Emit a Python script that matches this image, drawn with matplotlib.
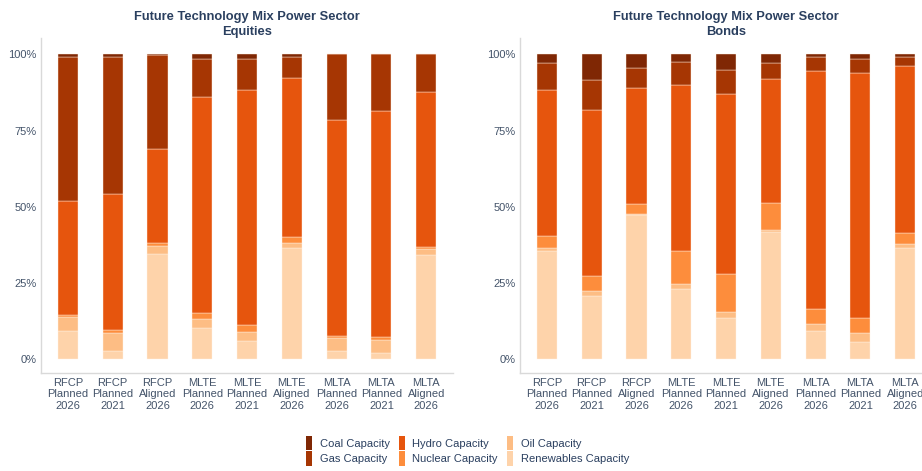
import numpy as np
import matplotlib
matplotlib.use("Agg")
from matplotlib import pyplot as plt
from matplotlib.patches import Patch

plt.rcParams['font.family'] = ['Liberation Sans', 'DejaVu Sans']

categories = ["RFCP\nPlanned\n2026", "RFCP\nPlanned\n2021", "RFCP\nAligned\n2026",
              "MLTE\nPlanned\n2026", "MLTE\nPlanned\n2021", "MLTE\nAligned\n2026",
              "MLTA\nPlanned\n2026", "MLTA\nPlanned\n2021", "MLTA\nAligned\n2026"]

technologies = ["Renewables Capacity", "Oil Capacity", "Nuclear Capacity",
                "Hydro Capacity", "Gas Capacity", "Coal Capacity"]
colors = ["#fed3aa", "#fdbd84", "#fd8d3c", "#e6550d", "#a63603", "#7f2704"]

# equities shares (%), one list per technology
eq_renewables = [9.2, 2.7, 34.4, 10.3, 5.9, 36.6, 2.7, 2.1, 34.1]
eq_oil = [4.7, 5.9, 2.8, 2.7, 3.1, 1.5, 4.1, 4.2, 2.0]
eq_nuclear = [0.7, 0.9, 0.8, 2.0, 2.1, 1.8, 0.9, 1.0, 0.8]
eq_hydro = [37.4, 44.8, 31.0, 71.0, 77.1, 52.3, 70.7, 74.2, 50.6]
eq_gas = [47.1, 44.8, 30.7, 12.6, 10.2, 7.1, 21.6, 18.5, 12.5]
eq_coal = [0.9, 0.9, 0.3, 1.4, 1.6, 0.7, 0.0, 0.0, 0.0]

# bonds shares (%)
bo_renewables = [35.5, 20.8, 47.2, 23.0, 13.4, 41.7, 9.1, 5.6, 36.4]
bo_oil = [1.1, 1.6, 0.5, 1.5, 1.9, 0.8, 2.5, 2.9, 1.4]
bo_nuclear = [3.8, 4.7, 3.3, 10.8, 12.5, 8.8, 4.8, 4.9, 3.6]
bo_hydro = [48.0, 54.8, 38.0, 54.5, 59.1, 40.5, 78.1, 80.6, 54.8]
bo_gas = [8.8, 9.6, 6.6, 7.8, 7.9, 5.4, 4.6, 4.5, 3.1]
bo_coal = [2.8, 8.5, 4.4, 2.4, 5.2, 2.8, 0.9, 1.5, 0.7]

equities = [eq_renewables, eq_oil, eq_nuclear, eq_hydro, eq_gas, eq_coal]
bonds = [bo_renewables, bo_oil, bo_nuclear, bo_hydro, bo_gas, bo_coal]

text_color = "#2a3f5f"
tick_color = "#44546a"


def plot_stack(ax, series, title):
    """Draw one 100% stacked bar panel."""
    x = np.arange(len(categories))
    bottom = np.zeros(len(categories))
    for vals, col in zip(series, colors):
        vals = np.array(vals)
        ax.bar(x, vals, bottom=bottom, width=0.45, color=col,
               edgecolor="#fff2e6", linewidth=0.3)
        bottom += vals
    ax.set_xlim(-0.6, 8.6)
    ax.set_ylim(-4.6, 105.4)
    ax.set_yticks([0, 25, 50, 75, 100])
    ax.set_yticklabels(["0%", "25%", "50%", "75%", "100%"])
    ax.set_xticks(x)
    ax.set_xticklabels(categories, linespacing=1.2)
    ax.tick_params(axis="both", length=0, labelsize=8, labelcolor=tick_color)
    ax.tick_params(axis="x", pad=3.5)
    ax.tick_params(axis="y", pad=3)
    for s in ["top", "right"]:
        ax.spines[s].set_visible(False)
    for s in ["left", "bottom"]:
        ax.spines[s].set_color("#d9d9d9")
        ax.spines[s].set_linewidth(1.0)
    ax.set_title(title, fontsize=9.3, fontweight="bold", color=text_color,
                 linespacing=1.3, pad=2)


fig = plt.figure(figsize=(9.22, 4.71), dpi=100)
ax1 = fig.add_axes([0.0445, 0.2081, 0.4469, 0.7113])
ax2 = fig.add_axes([0.564, 0.2081, 0.4469, 0.7113])

plot_stack(ax1, equities, "Future Technology Mix Power Sector\nEquities")
plot_stack(ax2, bonds, "Future Technology Mix Power Sector\nBonds")

legend_order = [5, 4, 3, 2, 1, 0]
handles = [Patch(facecolor=colors[i], edgecolor="none") for i in legend_order]
labels = [technologies[i] for i in legend_order]
fig.legend(handles, labels, ncol=3, loc="lower center",
           bbox_to_anchor=(0.507, -0.01), frameon=False, fontsize=8,
           labelcolor=text_color, handlelength=0.55, handleheight=1.6,
           handletextpad=0.7, columnspacing=0.8, labelspacing=0.12)

fig.savefig("out.png", dpi=100)
